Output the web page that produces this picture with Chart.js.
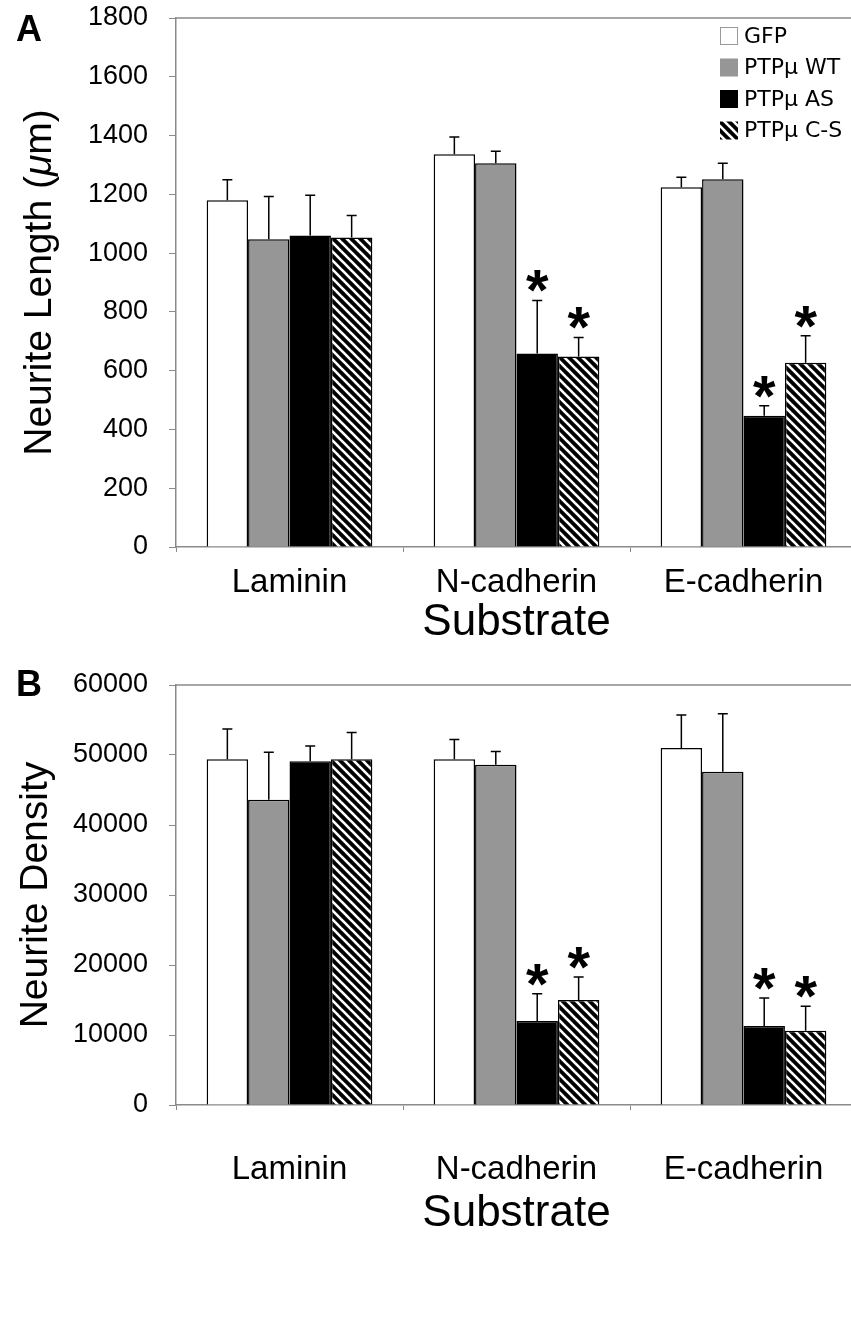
<!DOCTYPE html>
<html>
<head>
<meta charset="utf-8">
<script src="https://cdn.jsdelivr.net/npm/chart.js@4.4.0/dist/chart.umd.min.js"></script>
<style>
  html, body { margin: 0; padding: 0; background: #fff; overflow: hidden; }
  .panel { position: absolute; left: 0; width: 860px; }
  #panel-a { top: 0; height: 650px; }
  #panel-b { top: 650px; height: 671px; }
</style>
</head>
<body>
<div class="panel" id="panel-a"><canvas id="chart-a"></canvas></div>
<div class="panel" id="panel-b"><canvas id="chart-b"></canvas></div>
<script>
const substrates = ['Laminin', 'N-cadherin', 'E-cadherin'];
const groups = ['GFP', 'PTPμ WT', 'PTPμ AS', 'PTPμ C-S'];

// A: neurite length (um), mean and upper error
const lengthGFP = [1180, 1336, 1224];
const lengthWT = [1047, 1306, 1251];
const lengthAS = [1060, 658, 447];
const lengthCS = [1053, 648, 627];
const lengthErrGFP = [70, 59, 34];
const lengthErrWT = [146, 41, 55];
const lengthErrAS = [137, 181, 34];
const lengthErrCS = [75, 65, 92];
const lengthTicks = [0, 200, 400, 600, 800, 1000, 1200, 1400, 1600, 1800];

// B: neurite density
const densityGFP = [49400, 49400, 51000];
const densityWT = [43600, 48600, 47600];
const densityAS = [49100, 12000, 11300];
const densityCS = [49400, 15000, 10600];
const densityErrGFP = [4300, 2800, 4700];
const densityErrWT = [6800, 1900, 8300];
const densityErrAS = [2200, 3900, 4000];
const densityErrCS = [3800, 3300, 3500];
const densityTicks = [0, 10000, 20000, 30000, 40000, 50000, 60000];

// significance marks (*), same in both panels
const starsGFP = [false, false, false];
const starsWT = [false, false, false];
const starsAS = [false, true, true];
const starsCS = [false, true, true];

const FONT = '"Liberation Sans", Arial, sans-serif';
const AXIS_GRAY = '#8a8a8a';

function make_hatch() {
  const c = document.createElement('canvas');
  c.width = 9; c.height = 9;
  const g = c.getContext('2d');
  g.fillStyle = '#000';
  g.fillRect(0, 0, 9, 9);
  g.strokeStyle = '#fff';
  g.lineWidth = 2.6;
  for (const s of [-9, 0, 9]) {
    g.beginPath();
    g.moveTo(s - 1, -1);
    g.lineTo(s + 10, 10);
    g.stroke();
  }
  return g.createPattern(c, 'repeat');
}
const hatch = make_hatch();

const fills = ['#ffffff', '#969696', '#000000', hatch];

function build_datasets(values, errors, stars) {
  return groups.map((name, i) => ({
    label: name,
    data: values[i],
    errors: errors[i],
    stars: stars[i],
    backgroundColor: fills[i],
    borderColor: '#000',
    borderWidth: 1.5,
    categoryPercentage: 0.73,
    barPercentage: 1.0
  }));
}

// error bars + asterisks drawn from the bar elements and y scale
const errorBars = {
  id: 'errorBars',
  afterDatasetsDraw(chart) {
    const ctx = chart.ctx;
    const y = chart.scales.y;
    chart.data.datasets.forEach((ds, i) => {
      const meta = chart.getDatasetMeta(i);
      meta.data.forEach((bar, j) => {
        const top = y.getPixelForValue(ds.data[j] + ds.errors[j]);
        ctx.save();
        ctx.strokeStyle = '#000';
        ctx.lineWidth = 1.5;
        ctx.beginPath();
        ctx.moveTo(bar.x, bar.y);
        ctx.lineTo(bar.x, top);
        ctx.moveTo(bar.x - 5, top);
        ctx.lineTo(bar.x + 5, top);
        ctx.stroke();
        if (ds.stars[j]) {
          ctx.font = 'bold 100px ' + FONT;
          let m = ctx.measureText('*');
          const size = 100 * 22 / (m.actualBoundingBoxAscent + m.actualBoundingBoxDescent);
          ctx.font = 'bold ' + size + 'px ' + FONT;
          m = ctx.measureText('*');
          const cy = top - 19;
          ctx.fillStyle = '#000';
          ctx.textAlign = 'center';
          ctx.textBaseline = 'alphabetic';
          ctx.fillText('*', bar.x, cy + (m.actualBoundingBoxAscent - m.actualBoundingBoxDescent) / 2);
        }
        ctx.restore();
      });
    });
  }
};

// panel letter, axis titles, top frame line, optional legend
const panelText = {
  id: 'panelText',
  afterDraw(chart, args, opts) {
    const ctx = chart.ctx;
    const area = chart.chartArea;
    ctx.save();

    ctx.strokeStyle = AXIS_GRAY;
    ctx.lineWidth = 1.5;
    ctx.beginPath();
    ctx.moveTo(area.left, area.top);
    ctx.lineTo(area.right, area.top);
    ctx.stroke();

    ctx.fillStyle = '#000';
    ctx.textBaseline = 'middle';
    ctx.textAlign = 'center';
    ctx.font = 'bold 36px ' + FONT;
    ctx.fillText(opts.letter, 29, opts.letterY);

    ctx.font = '44px ' + FONT;
    ctx.fillText(opts.xTitle, (area.left + area.right) / 2, opts.xTitleY);

    // rotated y title, may mix upright and italic parts
    ctx.translate(opts.yTitleX, (area.top + area.bottom) / 2);
    ctx.rotate(-Math.PI / 2);
    ctx.textAlign = 'left';
    let total = 0;
    for (const p of opts.yTitle) {
      ctx.font = (p.italic ? 'italic ' : '') + '39px ' + FONT;
      total += ctx.measureText(p.text).width;
    }
    let x = -total / 2;
    for (const p of opts.yTitle) {
      ctx.font = (p.italic ? 'italic ' : '') + '39px ' + FONT;
      ctx.fillText(p.text, x, 0);
      x += ctx.measureText(p.text).width;
    }
    ctx.restore();

    if (opts.legend) {
      ctx.save();
      const lx = area.right - 137;
      chart.data.datasets.forEach((ds, i) => {
        const cy = area.top + 18 + i * 31.5;
        ctx.fillStyle = ds.backgroundColor;
        ctx.fillRect(lx, cy - 9, 18, 18);
        if (i === 0) {
          ctx.strokeStyle = '#999';
          ctx.lineWidth = 1;
          ctx.strokeRect(lx + 0.5, cy - 8.5, 17, 17);
        }
        ctx.fillStyle = '#000';
        ctx.font = '22px "DejaVu Sans", Verdana, sans-serif';
        ctx.textAlign = 'left';
        ctx.textBaseline = 'middle';
        ctx.fillText(ds.label, lx + 24, cy + 1);
      });
      ctx.restore();
    }
  }
};

function make_chart(id, datasets, ticks, topPad, xHeight, labelPad, text) {
  return new Chart(document.getElementById(id), {
    type: 'bar',
    data: { labels: substrates, datasets: datasets },
    plugins: [errorBars, panelText],
    options: {
      responsive: true,
      maintainAspectRatio: false,
      animation: false,
      layout: { padding: { top: topPad, right: 3, left: 0, bottom: 0 } },
      plugins: {
        legend: { display: false },
        tooltip: { enabled: false },
        panelText: text
      },
      scales: {
        x: {
          offset: true,
          grid: { display: true, offset: true, drawOnChartArea: false, tickLength: 5, color: AXIS_GRAY, lineWidth: 1 },
          border: { color: AXIS_GRAY, width: 1.5 },
          ticks: { color: '#000', font: { family: FONT, size: 33 }, padding: labelPad, maxRotation: 0 },
          afterFit(scale) {
            scale.height = xHeight;
            scale.paddingLeft = 0;
            scale.paddingRight = 0;
          }
        },
        y: {
          min: ticks[0],
          max: ticks[ticks.length - 1],
          afterBuildTicks(scale) { scale.ticks = ticks.map(v => ({ value: v })); },
          grid: { display: true, drawOnChartArea: false, tickLength: 7, color: AXIS_GRAY, lineWidth: 1 },
          border: { color: AXIS_GRAY, width: 1.5 },
          ticks: { color: '#000', font: { family: FONT, size: 27 }, padding: 21, callback: v => String(v) },
          afterFit(scale) {
            scale.width = 176;
            scale.paddingTop = 0;
            scale.paddingBottom = 0;
          }
        }
      }
    }
  });
}

make_chart('chart-a',
  build_datasets([lengthGFP, lengthWT, lengthAS, lengthCS],
                 [lengthErrGFP, lengthErrWT, lengthErrAS, lengthErrCS],
                 [starsGFP, starsWT, starsAS, starsCS]),
  lengthTicks, 18, 103, 11,
  { letter: 'A', letterY: 31, xTitle: 'Substrate', xTitleY: 623, yTitleX: 40,
    yTitle: [{ text: 'Neurite Length (' }, { text: 'μ', italic: true }, { text: 'm)' }], legend: true });

make_chart('chart-b',
  build_datasets([densityGFP, densityWT, densityAS, densityCS],
                 [densityErrGFP, densityErrWT, densityErrAS, densityErrCS],
                 [starsGFP, starsWT, starsAS, starsCS]),
  densityTicks, 35, 216, 40,
  { letter: 'B', letterY: 36, xTitle: 'Substrate', xTitleY: 564, yTitleX: 36,
    yTitle: [{ text: 'Neurite Density' }], legend: false });
</script>
</body>
</html>
